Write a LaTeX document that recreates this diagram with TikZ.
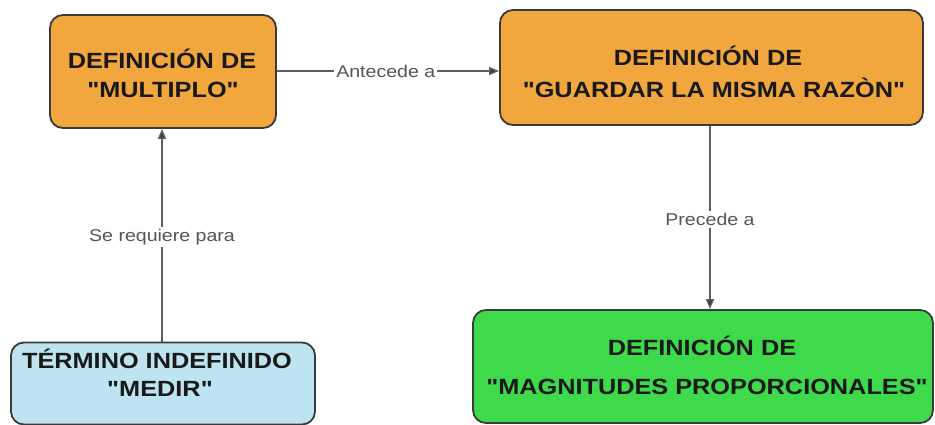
\documentclass[tikz,border=0pt]{standalone}
\usepackage{fontspec}
\usetikzlibrary{arrows.meta}
\newfontfamily\boxfont[FakeStretch=1.15]{Liberation Sans}
\definecolor{orangebox}{HTML}{F2A63E}
\definecolor{bluebox}{HTML}{BEE4F2}
\definecolor{greenbox}{HTML}{3FDA4B}
\definecolor{edgecol}{HTML}{3A3A3A}
\definecolor{linecol}{HTML}{5E5E5E}
\definecolor{labcol}{HTML}{555555}
\begin{document}
\begin{tikzpicture}[x=1pt,y=-1pt,
  concept/.style={draw=edgecol, line width=1.8pt, rounded corners=13pt, inner sep=0pt},
  ctext/.style={anchor=base, inner sep=0pt, text=black!90, font=\boxfont\bfseries\fontsize{22}{26}\selectfont},
  link/.style={draw=linecol, line width=1.4pt, -{Triangle[length=10pt,width=8pt,fill=edgecol]}},
  lab/.style={fill=white, inner sep=2pt, text=labcol, font=\boxfont\fontsize{17}{20}\selectfont}
]
\useasboundingbox (0,0) rectangle (935,424);
% boxes
\node[concept, fill=orangebox, minimum width=226pt, minimum height=113pt] (mult) at (163,71.5) {};
\node[concept, fill=orangebox, minimum width=423pt, minimum height=115pt] (razon) at (711.5,67.5) {};
\node[concept, fill=bluebox, minimum width=304pt, minimum height=82pt] (medir) at (163,383.5) {};
\node[concept, fill=greenbox, minimum width=460pt, minimum height=113pt] (magn) at (703,366.5) {};
% texts
\node[ctext] (multA) at (162,68) {DEFINICIÓN DE};
\node[ctext] (multB) at (163,97) {"MULTIPLO"};
\node[ctext] (razonA) at (708,65) {DEFINICIÓN DE};
\node[ctext] (razonB) at (714,97) {"GUARDAR LA MISMA RAZÒN"};
\node[ctext] (medirA) at (157,368) {TÉRMINO INDEFINIDO};
\node[ctext] (medirB) at (160,396) {"MEDIR"};
\node[ctext] (magnA) at (702,355) {DEFINICIÓN DE};
\node[ctext] (magnB) at (707,394) {"MAGNITUDES PROPORCIONALES"};
% connectors
\draw[link] (mult.east |- 0,71) -- node[lab, pos=0.49] {Antecede a} (razon.west |- 0,71);
\draw[link] (medir.north -| 162,0) -- node[lab, pos=0.49] {Se requiere para} (mult.south -| 162,0);
\draw[link] (razon.south -| 710,0) -- node[lab, pos=0.51] {Precede a} (magn.north -| 710,0);
\end{tikzpicture}
\end{document}
